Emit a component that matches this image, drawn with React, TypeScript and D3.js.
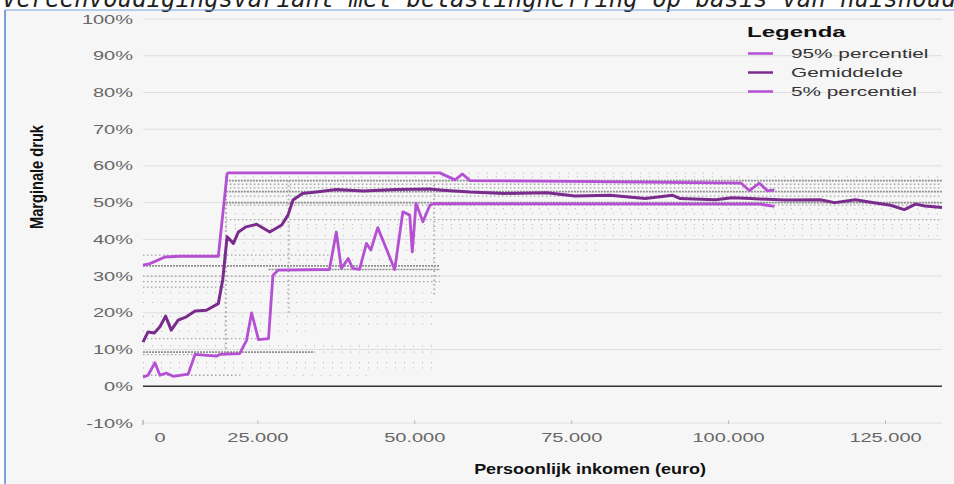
import React, { useEffect, useRef } from "react";
import * as d3 from "d3";

// inkomen in euro, marginale druk in procent
const p95: [number, number][] = [
  [6700, 33], [7800, 33.4], [10200, 35.2], [12600, 35.4], [18700, 35.4], [20100, 57.9],
  [20300, 58.1], [54000, 58.1], [56400, 56.2], [57600, 57.8], [58800, 56], [74900, 55.8],
  [102000, 55.3], [103300, 53.3], [104900, 55.3], [106200, 53.2], [107300, 53.5],
];

const gemiddelde: [number, number][] = [
  [6700, 12], [7500, 14.8], [8500, 14.5], [9400, 16.2], [10300, 19.1], [11200, 15.3],
  [12300, 18], [13600, 18.9], [15000, 20.5], [16800, 20.7], [18700, 22.5], [19400, 29],
  [20100, 40.7], [21100, 38.9], [21900, 42], [23100, 43.4], [24800, 44.1], [26900, 42],
  [28800, 43.9], [29800, 46.6], [30600, 50.7], [32100, 52.5], [34300, 52.9], [37500, 53.6],
  [41800, 53.2], [47000, 53.6], [52400, 53.7], [54500, 53.4], [58800, 52.9], [64300, 52.5],
  [71000, 52.7], [75500, 51.8], [81100, 52], [86700, 51.1], [91100, 52], [92300, 51.1],
  [97900, 50.8], [100600, 51.3], [103500, 51.1], [109000, 50.7], [114600, 50.8], [116900, 50],
  [120200, 50.8], [122400, 50.2], [125800, 49.3], [128000, 48.1], [129800, 49.6], [131300, 49.1],
  [134000, 48.7],
];

const p5: [number, number][] = [
  [6700, 2.5], [7500, 3], [8600, 6.4], [9400, 3], [10400, 3.6], [11500, 2.7], [13900, 3.3],
  [15000, 8.7], [18400, 8.2], [19000, 8.7], [22100, 8.9], [23200, 12.5], [24000, 20],
  [25100, 12.7], [26700, 13], [27400, 30.2], [28200, 31.6], [36400, 31.8], [37500, 42],
  [38300, 32.1], [39400, 34.8], [40100, 32.1], [41200, 31.8], [42300, 38.9], [43000, 37.1],
  [44100, 43.2], [46800, 31.8], [48100, 47.5], [49200, 46.6], [49600, 36.6], [50200, 49.8],
  [51300, 44.8], [52400, 49.3], [53000, 49.7], [104900, 49.6], [107300, 49.0],
];

// huishoudens: horizontale banden [druk %, van euro, tot euro, dichtheid]
const banden: [number, number, number, number][] = [
  [58, 19900, 97600, 1], [57, 19900, 134000, 1], [56, 19900, 134000, 3], [55, 19900, 134000, 2],
  [54, 19900, 134000, 2], [53, 19900, 134000, 3], [51.8, 19900, 134000, 2], [50, 19900, 134000, 3],
  [49.3, 19900, 134000, 2], [48.3, 54000, 134000, 1], [47, 19900, 134000, 1], [45.4, 19900, 134000, 2],
  [44, 19900, 134000, 1], [43, 19900, 134000, 1], [41, 19900, 134000, 1], [39, 19900, 79400, 1],
  [37, 19900, 79400, 1], [35.7, 6700, 36700, 2], [34.5, 19900, 54000, 1], [32.8, 6700, 54000, 3],
  [31.8, 26700, 54000, 3], [30, 6700, 54000, 2], [28.5, 6700, 54000, 2], [27, 6700, 19900, 2],
  [25.5, 6700, 54000, 1], [22.8, 6700, 54000, 1], [19, 6700, 54000, 1], [17, 6700, 54000, 1],
  [15, 6700, 34000, 1], [13, 6700, 26700, 2], [11, 6700, 54000, 1], [9.3, 6700, 34000, 3],
  [9.3, 34000, 54000, 1], [8.6, 6700, 19900, 2], [6.5, 6700, 54000, 1], [5, 6700, 54000, 1],
  [3, 6700, 22100, 2], [3, 22100, 43100, 1],
];

// verticale kolommen [euro, van %, tot %, dichtheid]
const kolommen: [number, number, number, number][] = [
  [19900, 9, 58, 2], [29900, 20, 56, 1], [53100, 25, 58, 1],
];

const yTicks = [-10, 0, 10, 20, 30, 40, 50, 60, 70, 80, 90, 100];
const xTicks = [0, 25000, 50000, 75000, 100000, 125000];
const legenda = ["95% percentiel", "Gemiddelde", "5% percentiel"];

const KLEUR_P = "#b54fd4";
const KLEUR_G = "#7a2c8c";
const REK = 1.6; // de grafiek is in de breedte uitgerekt

const App = () => {
  const svgRef = useRef(null);

  useEffect(() => {
    const svg = d3.select(svgRef.current);
    svg.selectAll("*").remove();

    const x = d3.scaleLinear().domain([6700, 134000]).range([143, 942]);
    const y = d3.scaleLinear().domain([-10, 100]).range([423, 19]);
    const nl = d3.formatLocale({ decimal: ",", thousands: ".", grouping: [3], currency: ["€", ""] });
    const fmt = nl.format(",.0f");
    const sans = "Liberation Sans, Arial, sans-serif";

    // uitgerekte tekst
    const tekst = (g, tx, ty, s, anchor, rek = REK) =>
      g.append("text")
        .attr("transform", `translate(${tx},${ty}) scale(${rek},1)`)
        .attr("text-anchor", anchor)
        .attr("font-family", sans)
        .text(s);

    // achtergrond en kader
    svg.append("rect").attr("width", 954).attr("height", 484).attr("fill", "#fff");
    svg.append("rect").attr("x", 5).attr("y", 10).attr("width", 960).attr("height", 490)
      .attr("fill", "#f6f6f6");
    svg.append("line").attr("x1", 5).attr("x2", 5).attr("y1", 10).attr("y2", 484)
      .attr("stroke", "#4f7fd6").attr("stroke-width", 1.5);

    // titel (afgesneden)
    svg.append("text")
      .attr("x", 2).attr("y", 7)
      .attr("font-family", "DejaVu Sans Mono").attr("font-style", "italic")
      .attr("font-size", 24).attr("fill", "#222")
      .text("Vereenvoudigingsvariant met belastingheffing op basis van huishoudinkomen");
    svg.append("line").attr("x1", 5).attr("x2", 954).attr("y1", 10).attr("y2", 10)
      .attr("stroke", "#7aa0e0").attr("stroke-width", 1.2);

    // rasterlijnen
    svg.append("g").selectAll("line").data(yTicks.filter((d) => d !== 0)).enter().append("line")
      .attr("x1", 143).attr("x2", 942)
      .attr("y1", (d) => y(d)).attr("y2", (d) => y(d))
      .attr("stroke", "#dedede").attr("stroke-width", 1);

    const yg = svg.append("g");
    yTicks.forEach((d) => {
      tekst(yg, 133, y(d) + 4.5, d + "%", "end").attr("font-size", 12.5).attr("fill", "#666");
    });

    svg.append("line").attr("x1", 143).attr("x2", 143).attr("y1", y(-10) - 3).attr("y2", y(-10) + 2)
      .attr("stroke", "#999");

    // huishoudens
    const stijl = {
      3: { c: "#8f8f8f", w: 1.7, d: "2,1" },
      2: { c: "#a4a4a4", w: 1.3, d: "1.5,2.5" },
      1: { c: "#b2b2b2", w: 1, d: "1,8" },
    };
    svg.append("g").selectAll("line").data(banden).enter().append("line")
      .attr("x1", (d) => x(d[1])).attr("x2", (d) => x(d[2]))
      .attr("y1", (d) => y(d[0])).attr("y2", (d) => y(d[0]))
      .attr("stroke", (d) => stijl[d[3]].c)
      .attr("stroke-width", (d) => stijl[d[3]].w)
      .attr("stroke-dasharray", (d) => stijl[d[3]].d);
    svg.append("g").selectAll("line").data(kolommen).enter().append("line")
      .attr("x1", (d) => x(d[0])).attr("x2", (d) => x(d[0]))
      .attr("y1", (d) => y(d[1])).attr("y2", (d) => y(d[2]))
      .attr("stroke", (d) => stijl[d[3]].c)
      .attr("stroke-width", 2)
      .attr("stroke-dasharray", "1.5,3");

    // nullijn
    svg.append("line").attr("x1", 143).attr("x2", 942).attr("y1", y(0)).attr("y2", y(0))
      .attr("stroke", "#333").attr("stroke-width", 1.5);

    // x-as
    const xg = svg.append("g");
    xg.selectAll("line").data(xTicks.filter((d) => x(d) > 150)).enter().append("line")
      .attr("x1", (d) => x(d)).attr("x2", (d) => x(d))
      .attr("y1", y(-10) - 3).attr("y2", y(-10) + 1)
      .attr("stroke", "#bbb");
    xTicks.forEach((d) => {
      const px = x(d) < 143 ? 160 : x(d);
      tekst(xg, px, 442, fmt(d), "middle").attr("font-size", 12.5).attr("fill", "#666");
    });

    tekst(svg, 590, 474, "Persoonlijk inkomen (euro)", "middle", 1.2)
      .attr("font-weight", "bold").attr("font-size", 15).attr("fill", "#111");

    svg.append("text")
      .attr("transform", "translate(43,177) rotate(-90)")
      .attr("text-anchor", "middle")
      .attr("font-family", sans).attr("font-weight", "bold")
      .attr("font-size", 19).attr("fill", "#111")
      .attr("textLength", 104).attr("lengthAdjust", "spacingAndGlyphs")
      .text("Marginale druk");

    // lijnen
    const lijn = d3.line<[number, number]>().x((d) => x(d[0])).y((d) => y(d[1]));
    const reeksen: [[number, number][], string, number][] = [
      [p95, KLEUR_P, 2.8], [p5, KLEUR_P, 2.8], [gemiddelde, KLEUR_G, 3],
    ];
    svg.append("g").selectAll("path").data(reeksen).enter().append("path")
      .attr("d", (d) => lijn(d[0]))
      .attr("fill", "none")
      .attr("stroke", (d) => d[1])
      .attr("stroke-width", (d) => d[2])
      .attr("stroke-linejoin", "round");

    // legenda
    const lg = svg.append("g");
    tekst(lg, 747, 37, "Legenda", "start")
      .attr("font-weight", "bold").attr("font-size", 15).attr("fill", "#111");
    const kleuren = [KLEUR_P, KLEUR_G, KLEUR_P];
    legenda.forEach((naam, i) => {
      const ly = 53.5 + i * 19;
      lg.append("line").attr("x1", 748).attr("x2", 773).attr("y1", ly).attr("y2", ly)
        .attr("stroke", kleuren[i]).attr("stroke-width", 2.5);
      tekst(lg, 791, ly + 4.5, naam, "start").attr("font-size", 13).attr("fill", "#333");
    });
  }, []);

  return (
    <div style={{ position: "absolute", left: 0, top: 0 }}>
      <svg ref={svgRef} width={954} height={484} style={{ display: "block" }}></svg>
    </div>
  );
};

export default App;
